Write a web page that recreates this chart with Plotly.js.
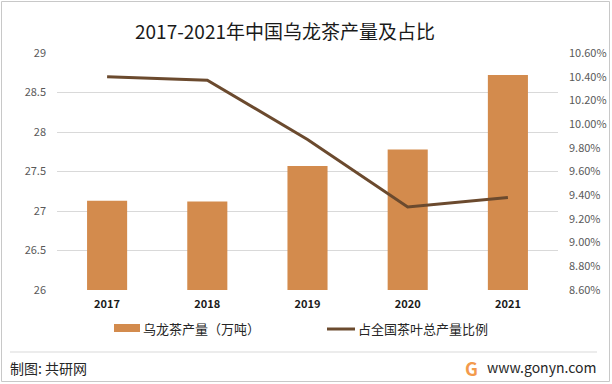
<!DOCTYPE html>
<html>
<head>
<meta charset="utf-8">
<script src="https://cdn.plot.ly/plotly-3.0.1.min.js"></script>
<style>html,body{margin:0;padding:0;background:#fff;}#chart{width:612px;height:384px;}</style>
</head>
<body>
<div id="chart"></div>
<script>
const years = ['2017', '2018', '2019', '2020', '2021'];
const output = [27.13, 27.12, 27.57, 27.78, 28.72];
const share = [0.1040, 0.1037, 0.0987, 0.0930, 0.0938];
const leftTicks = [26, 26.5, 27, 27.5, 28, 28.5, 29];
const rightTicks = [0.086, 0.088, 0.090, 0.092, 0.094, 0.096, 0.098, 0.100, 0.102, 0.104, 0.106];
const barName = '乌龙茶产量（万吨）';
const lineName = '占全国茶叶总产量比例';
const titleText = '2017-2021年中国乌龙茶产量及占比';

const FONT = '"Noto Sans CJK SC", "Noto Sans", sans-serif';
const barColor = '#d38b4d';
const lineColor = '#6b4a2e';

const px = v => (v - 57) / 501;
const py = v => (290 - v) / 237;

const traces = [
  {type: 'bar', x: years, y: output, name: barName, marker: {color: barColor},
   width: 0.4, showlegend: false, hoverinfo: 'skip'},
  {type: 'scatter', mode: 'lines', x: years, y: share, yaxis: 'y2', name: lineName,
   line: {color: lineColor, width: 3}, showlegend: false, hoverinfo: 'skip'}
];

const layout = {
  width: 612, height: 384,
  margin: {l: 57, r: 54, t: 53, b: 94},
  paper_bgcolor: '#fff', plot_bgcolor: '#fff',
  font: {family: FONT, color: '#595959', size: 11},
  title: {text: titleText, x: 285/612, xref: 'container', xanchor: 'center',
          y: 1 - 32/384, yref: 'container', yanchor: 'middle',
          font: {family: FONT, size: 19, color: '#1a1a1a'}},
  xaxis: {type: 'category', showgrid: false, zeroline: false, showline: false,
          ticks: '', ticklabelstandoff: 6,
          tickfont: {family: FONT, size: 11, color: '#1a1a1a', weight: 'bold'}},
  yaxis: {range: [26, 29], tickvals: leftTicks, ticktext: leftTicks.map(String),
          showgrid: true, gridcolor: '#d9d9d9', gridwidth: 1, zeroline: false,
          showline: false, ticks: '', ticklabelstandoff: 10,
          tickfont: {family: FONT, size: 11, color: '#595959'}},
  yaxis2: {range: [0.086, 0.106], overlaying: 'y', side: 'right',
           tickvals: rightTicks, tickformat: '.2%', showgrid: false, zeroline: false,
           showline: false, ticks: '', ticklabelstandoff: 10,
           tickfont: {family: FONT, size: 11, color: '#595959'}},
  shapes: [
    {type: 'rect', xref: 'paper', yref: 'paper', layer: 'above',
     x0: px(114), x1: px(140), y0: py(332), y1: py(324),
     fillcolor: barColor, line: {width: 0}},
    {type: 'line', xref: 'paper', yref: 'paper',
     x0: px(327), x1: px(355), y0: py(329), y1: py(329),
     line: {color: lineColor, width: 3}},
    {type: 'line', xref: 'paper', yref: 'paper',
     x0: px(10), x1: px(597), y0: py(352), y1: py(352),
     line: {color: '#d9d9d9', width: 1}},
    {type: 'rect', xref: 'paper', yref: 'paper',
     x0: px(1.5), x1: px(609.5), y0: py(381.5), y1: py(1.5),
     line: {color: '#c8c8c8', width: 1}, fillcolor: 'rgba(0,0,0,0)'}
  ],
  annotations: [
    {xref: 'paper', yref: 'paper', x: px(141), y: py(328.5), xanchor: 'left', yanchor: 'middle',
     text: barName, showarrow: false, font: {family: FONT, size: 13, color: '#262626'}},
    {xref: 'paper', yref: 'paper', x: px(356), y: py(328.5), xanchor: 'left', yanchor: 'middle',
     text: lineName, showarrow: false, font: {family: FONT, size: 13, color: '#262626'}},
    {xref: 'paper', yref: 'paper', x: px(8), y: py(368), xanchor: 'left', yanchor: 'middle',
     text: '制图: 共研网', showarrow: false, font: {family: FONT, size: 14, color: '#262626'}},
    {xref: 'paper', yref: 'paper', x: px(471), y: py(368), xanchor: 'center', yanchor: 'middle',
     text: '<b>G</b>', showarrow: false, font: {family: FONT, size: 18, color: '#f39a4c'}},
    {xref: 'paper', yref: 'paper', x: px(598), y: py(367), xanchor: 'right', yanchor: 'middle',
     text: 'www.gonyn.com', showarrow: false, font: {family: FONT, size: 14, color: '#262626'}}
  ]
};

Plotly.newPlot('chart', traces, layout, {displayModeBar: false, staticPlot: true});
</script>
</body>
</html>
